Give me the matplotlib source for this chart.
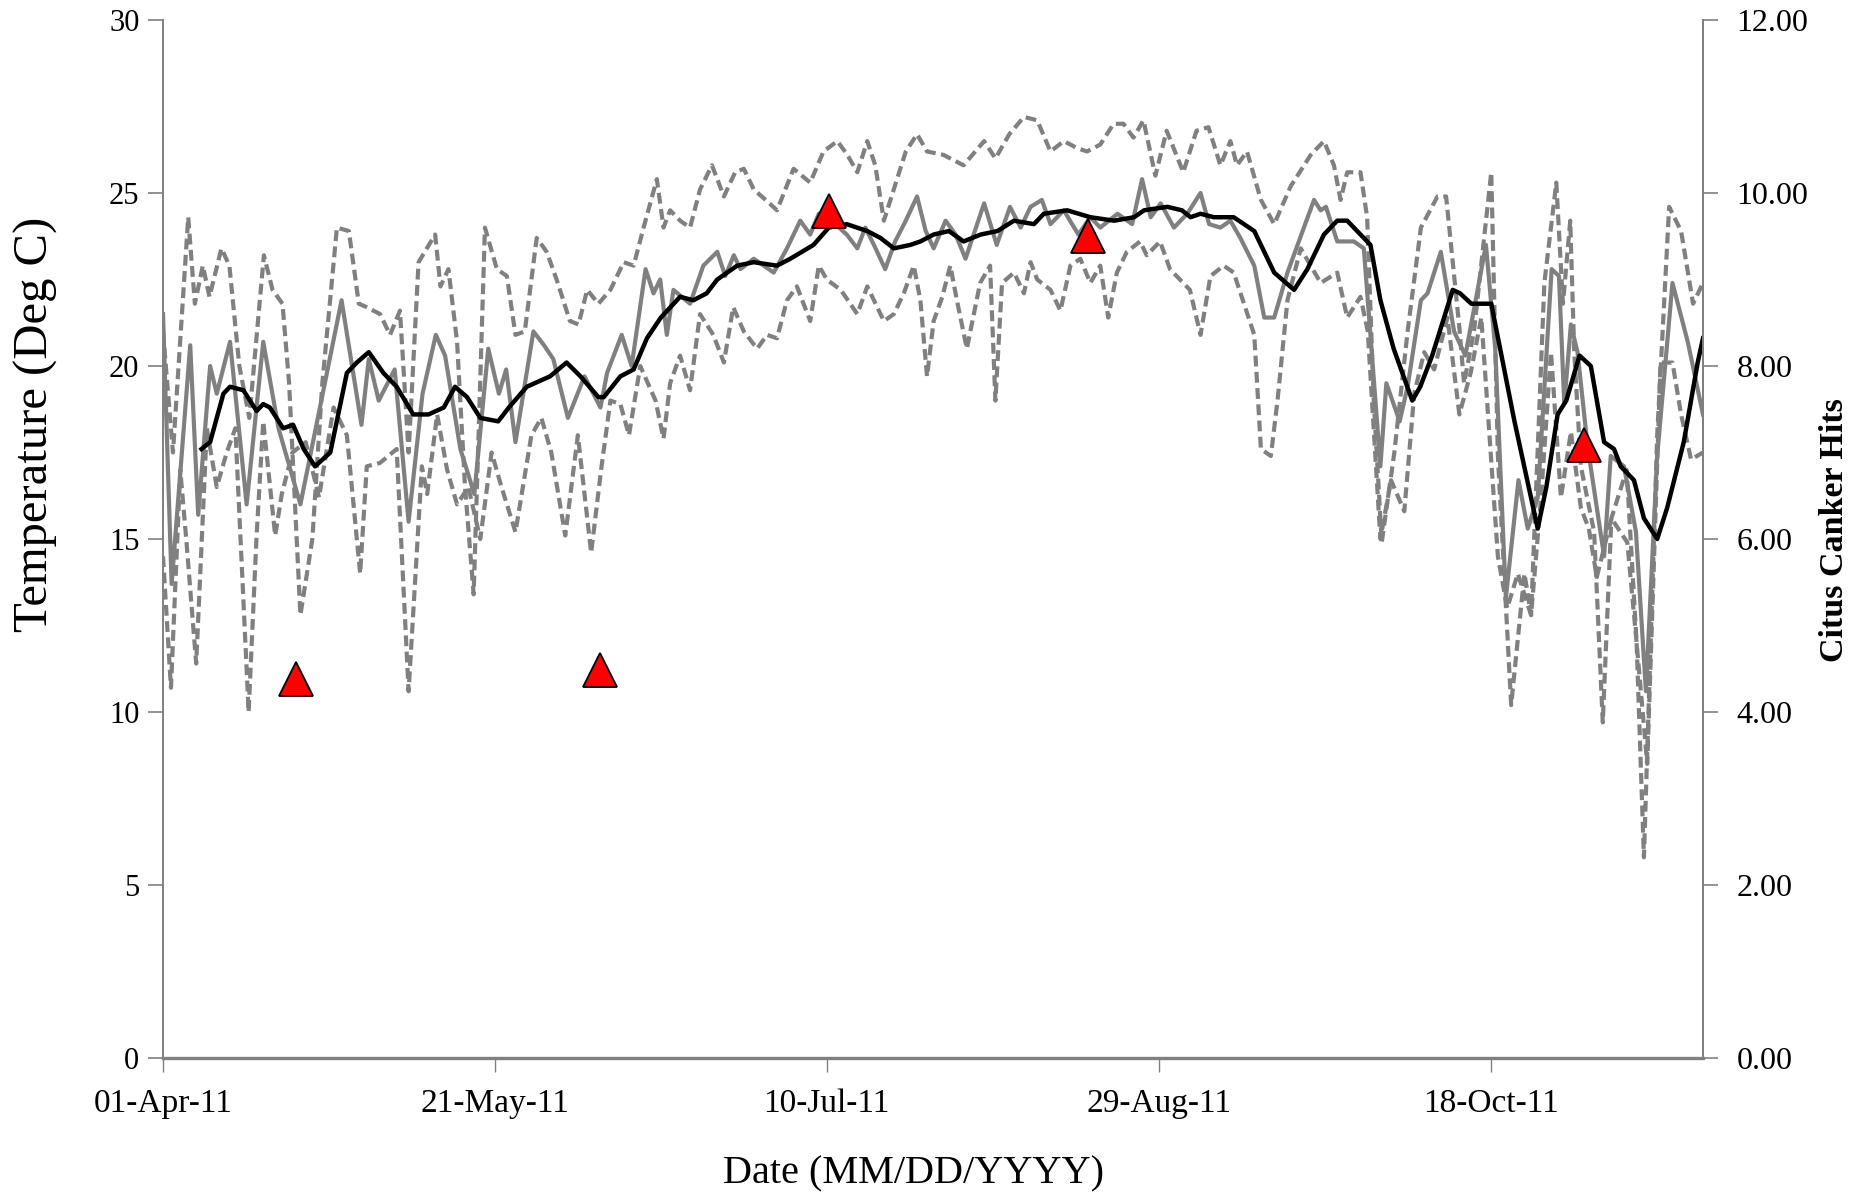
import numpy as np
import matplotlib
matplotlib.use("Agg")
import matplotlib.pyplot as plt

plt.rcParams['font.family'] = ['Liberation Serif', 'DejaVu Serif']

# ---- data (day offset from 01-Apr-2011, value) ----
tick_days = [0, 50, 100, 150, 200]
tick_labels = ["01-Apr-11", "21-May-11", "10-Jul-11", "29-Aug-11", "18-Oct-11"]

mean_days = [0.0, 1.3, 4.1, 5.3, 7.1, 8.1, 10.1, 12.6, 15.1, 17.4, 20.7, 26.9, 29.9, 31.0, 32.5, 34.9,
             37.0, 39.1, 41.1, 42.5, 44.8, 46.9, 49.0, 50.6, 51.7, 53.1, 55.8, 57.4, 58.8, 61.0, 63.5,
             65.9, 66.9, 69.1, 70.6, 72.7, 73.9, 74.9, 75.9, 76.9, 79.4, 81.4, 83.5, 84.7, 86.0, 87.0,
             89.0, 92.0, 94.0, 96.0, 97.5, 98.8, 100.7, 103.0, 104.6, 105.8, 107.1, 108.8, 110.3, 111.9,
             113.6, 114.9, 116.1, 117.9, 119.4, 120.9, 123.7, 125.6, 127.6, 129.2, 130.7, 132.4, 133.7,
             135.7, 137.9, 139.7, 141.2, 143.8, 146.0, 147.5, 148.8, 150.3, 152.3, 154.3, 156.3, 157.6,
             159.3, 160.8, 162.3, 164.4, 165.9, 167.4, 169.4, 173.4, 174.4, 175.2, 176.9, 179.4, 180.9,
             181.9, 183.4, 184.3, 186.3, 187.5, 189.5, 190.5, 192.5, 194.5, 196.2, 199.3, 200.7, 202.3,
             204.2, 205.6, 207.1, 209.2, 210.3, 211.1, 212.1, 213.1, 214.6, 217.1, 218.1, 220.1, 221.9,
             223.4, 225.1, 227.4, 229.7, 232.0]
mean_vals = [21.5, 13.7, 20.6, 15.7, 20.0, 19.2, 20.7, 16.0, 20.7, 18.2, 16.0, 21.9, 18.3, 20.2, 19.0, 19.9,
             15.5, 19.2, 20.9, 20.3, 17.6, 16.3, 20.5, 19.2, 19.9, 17.8, 21.0, 20.6, 20.2, 18.5, 19.7,
             18.8, 19.8, 20.9, 20.0, 22.8, 22.1, 22.5, 20.9, 22.2, 21.8, 22.9, 23.3, 22.6, 23.2, 22.8,
             23.1, 22.7, 23.4, 24.2, 23.8, 24.4, 24.2, 23.8, 23.4, 24.0, 23.5, 22.8, 23.6, 24.2,
             24.9, 23.9, 23.4, 24.2, 23.8, 23.1, 24.7, 23.5, 24.6, 24.0, 24.6, 24.8, 24.1,
             24.5, 23.8, 24.3, 24.0, 24.4, 24.1, 25.4, 24.3, 24.7, 24.0, 24.4, 25.0, 24.1,
             24.0, 24.2, 23.7, 22.9, 21.4, 21.4, 22.7, 24.8, 24.5, 24.6, 23.6, 23.6, 23.4,
             20.9, 17.1, 19.5, 18.4, 19.4, 21.9, 22.1, 23.3, 21.0, 20.3, 23.5, 20.5, 13.3,
             16.7, 15.3, 16.2, 22.8, 22.6, 18.9, 21.2, 20.4, 17.7, 14.5, 17.4, 17.1, 15.2,
             10.6, 17.4, 22.4, 20.7, 18.6]

avg_days = [5.8, 7.1, 9.1, 10.1, 12.1, 14.1, 15.1, 16.1, 18.1, 19.6, 21.2, 22.9, 25.2, 27.7, 29.2, 31.0,
            33.2, 35.2, 37.7, 40.0, 42.3, 44.0, 45.8, 47.8, 50.5, 52.1, 54.8, 58.3, 60.8, 62.9, 65.6,
            66.4, 68.9, 70.9, 72.9, 75.0, 77.9, 79.9, 81.9, 83.5, 86.5, 89.0, 92.5, 94.5, 98.0, 100.3,
            103.0, 106.1, 108.1, 110.1, 112.6, 114.1, 116.1, 118.4, 120.6, 123.2, 125.7, 128.2, 131.2,
            132.7, 136.2, 139.7, 143.3, 146.3, 147.8, 151.3, 153.5, 154.8, 156.3, 158.3, 161.3, 164.4,
            167.4, 170.4, 172.4, 174.9, 176.9, 178.4, 180.9, 181.9, 183.4, 185.4, 188.2, 189.4, 191.2,
            194.3, 195.4, 197.1, 200.1, 203.6, 207.1, 208.4, 210.1, 211.4, 213.4, 215.1, 217.1, 218.6,
            219.6, 221.6, 223.1, 225.1, 226.6, 229.1, 231.2, 232.0]
avg_vals = [17.6, 17.8, 19.2, 19.4, 19.3, 18.7, 18.9, 18.8, 18.2, 18.3, 17.6, 17.1, 17.5, 19.8, 20.1, 20.4,
            19.8, 19.4, 18.6, 18.6, 18.8, 19.4, 19.1, 18.5, 18.4, 18.8, 19.4, 19.7, 20.1, 19.7, 19.1,
            19.1, 19.7, 19.9, 20.8, 21.4, 22.0, 21.9, 22.1, 22.5, 22.9, 23.0, 22.9, 23.1, 23.5, 24.0,
            24.1, 23.9, 23.7, 23.4, 23.5, 23.6, 23.8, 23.9, 23.6, 23.8, 23.9, 24.2, 24.1,
            24.4, 24.5, 24.3, 24.2, 24.3, 24.5, 24.6, 24.5, 24.3, 24.4, 24.3, 24.3, 23.9,
            22.7, 22.2, 22.8, 23.8, 24.2, 24.2, 23.7, 23.5, 21.9, 20.5, 19.0, 19.4, 20.3,
            22.2, 22.1, 21.8, 21.8, 18.4, 15.3, 16.5, 18.6, 19.0, 20.3, 20.0, 17.8, 17.6,
            17.1, 16.7, 15.6, 15.0, 15.9, 17.8, 20.1, 20.8]

max_days = [0.0, 1.5, 3.8, 4.8, 6.0, 7.0, 8.8, 10.0, 11.5, 13.0, 15.2, 16.5, 18.0, 19.0, 20.7, 22.5, 24.0,
            26.2, 28.0, 29.5, 30.7, 32.7, 34.2, 35.7, 37.0, 38.5, 41.0, 41.8, 43.0, 44.3, 45.5, 46.8,
            48.5, 50.3, 51.8, 53.1, 54.5, 56.3, 57.8, 59.3, 61.3, 62.6, 63.9, 65.6, 67.4, 69.4, 70.9,
            72.4, 74.4, 75.4, 76.4, 77.9, 79.4, 80.9, 82.7, 84.5, 86.2, 87.5, 89.0, 90.8, 92.5, 95.0,
            97.5, 99.5, 101.6, 103.1, 104.6, 106.1, 107.3, 108.6, 111.9, 113.6, 115.1, 117.6, 120.6,
            123.7, 125.4, 127.5, 129.7, 131.7, 133.7, 135.7, 137.7, 139.2, 141.2, 143.2, 144.7, 146.2,
            147.7, 149.5, 151.2, 153.7, 155.7, 157.5, 159.3, 160.8, 161.8, 163.3, 165.4, 167.4, 169.9,
            172.9, 174.9, 176.4, 177.4, 178.4, 180.4, 181.4, 182.4, 183.6, 185.5, 187.5, 189.5, 192.0,
            193.3, 195.3, 196.0, 197.5, 200.1, 201.1, 203.1, 205.1, 206.1, 208.1, 209.9, 210.9, 212.0,
            212.6, 213.6, 215.6, 216.9, 218.2, 220.5, 222.0, 223.1, 225.1, 226.9, 228.7, 230.5, 232.0]
max_vals = [21.0, 17.5, 24.3, 21.8, 22.9, 22.0, 23.4, 22.9, 20.0, 18.5, 23.2, 22.2, 21.8, 19.5, 12.8, 15.0, 19.5,
            24.0, 23.9, 21.8, 21.7, 21.5, 20.9, 21.6, 17.5, 23.0, 23.8, 22.3, 22.8, 20.7, 16.5, 13.4,
            24.0, 22.8, 22.6, 20.9, 21.0, 23.7, 23.3, 22.5, 21.3, 21.2, 22.2, 21.8, 22.2, 23.0, 22.9,
            24.0, 25.4, 24.0, 24.5, 24.2, 24.0, 25.1, 25.8, 24.9, 25.6, 25.7, 25.1, 24.8, 24.5, 25.7,
            25.3, 26.2, 26.5, 26.1, 25.6, 26.5, 25.8, 24.2, 26.2, 26.7, 26.2, 26.1, 25.8,
            26.5, 26.0, 26.7, 27.2, 27.1, 26.2, 26.5, 26.3, 26.2, 26.4, 27.0, 27.0, 26.6,
            27.1, 25.5, 26.8, 25.6, 26.8, 26.9, 25.8, 26.5, 25.8, 26.2, 24.8, 24.1, 25.2,
            26.1, 26.5, 25.8, 24.8, 25.6, 25.6, 24.3, 19.0, 14.9, 17.5, 21.0, 24.0, 24.9,
            24.9, 21.1, 19.5, 21.0, 25.6, 17.4, 10.2, 14.0, 12.8, 22.4, 25.3, 21.8, 24.2,
            20.4, 17.1, 15.2, 9.7, 15.6, 17.0, 12.0, 5.8, 18.0, 24.6, 23.9, 21.8, 22.4]

min_days = [0.0, 1.2, 2.6, 3.5, 5.0, 6.6, 8.1, 9.6, 10.9, 12.9, 14.1, 15.1, 16.9, 17.9, 19.5, 21.5, 23.5,
            25.7, 27.7, 29.7, 30.7, 32.7, 35.2, 37.0, 39.0, 39.8, 41.3, 42.8, 44.3, 46.0, 47.8, 49.5,
            51.0, 53.1, 55.5, 57.0, 58.5, 60.6, 62.5, 64.5, 66.0, 67.4, 68.9, 70.2, 71.9, 74.2, 75.4,
            76.4, 77.9, 79.4, 80.9, 82.9, 84.5, 85.9, 87.5, 89.5, 91.0, 92.5, 94.0, 95.5, 97.5, 98.8,
            100.0, 102.1, 104.6, 106.1, 107.1, 108.6, 110.1, 111.6, 113.1, 114.1, 115.1, 116.1, 117.4,
            118.6, 119.6, 121.1, 123.1, 124.6, 125.4, 126.4, 128.2, 129.7, 130.7, 131.7, 133.7, 135.2,
            136.7, 138.2, 139.7, 141.2, 142.4, 143.7, 145.2, 147.2, 148.2, 150.2, 151.7, 154.7, 156.3,
            157.8, 159.8, 161.3, 164.4, 165.4, 166.9, 167.9, 169.4, 171.4, 174.4, 176.9, 178.4, 180.4,
            181.5, 183.4, 185.0, 187.0, 188.5, 190.0, 191.5, 193.5, 195.3, 197.0, 198.6, 201.1, 202.5,
            204.1, 206.1, 207.6, 209.1, 210.6, 212.1, 213.6, 214.8, 216.0, 218.2, 220.6, 222.0, 223.6,
            225.6, 227.4, 228.7, 230.2, 232.0]
min_vals = [14.5, 10.7, 17.0, 15.0, 11.4, 18.2, 16.5, 17.5, 18.2, 10.0, 15.1, 18.4, 15.1, 16.3, 17.5, 17.8, 16.2,
            18.8, 18.0, 14.0, 17.1, 17.2, 17.6, 10.6, 17.1, 16.3, 18.6, 17.0, 16.0, 16.5, 15.0, 17.5,
            16.5, 15.2, 18.0, 18.5, 17.5, 15.1, 18.0, 14.6, 17.0, 19.0, 18.9, 18.0, 20.0, 19.0, 17.9,
            19.5, 20.3, 19.3, 21.5, 20.9, 20.1, 21.7, 21.0, 20.5, 20.9, 20.8, 21.9, 22.3, 21.3, 22.9,
            22.5, 22.2, 21.5, 22.3, 21.9, 21.3, 21.5, 22.1, 22.9, 21.9, 19.7, 21.3, 22.0,
            22.9, 21.9, 20.5, 22.4, 22.9, 19.0, 22.4, 22.7, 22.1, 23.0, 22.5, 22.2, 21.6,
            22.9, 23.1, 22.4, 22.9, 21.4, 22.7, 23.3, 23.6, 23.2, 23.6, 22.8, 22.2, 20.9,
            22.6, 22.9, 22.7, 20.9, 17.6, 17.4, 19.0, 21.9, 23.4, 22.4, 22.7, 21.4, 22.0,
            21.0, 15.0, 16.7, 15.8, 19.2, 20.4, 19.9, 21.4, 18.6, 19.8, 21.4, 14.5, 13.0,
            14.0, 12.8, 16.2, 20.4, 16.2, 18.1, 15.9, 15.3, 13.9, 15.6, 14.9, 12.0, 8.5,
            20.1, 20.1, 18.6, 17.3, 17.5]

hit_days = [20.1, 65.8, 100.4, 139.4, 214.0]
hit_vals = [4.38, 4.48, 9.79, 9.50, 7.09]

# ---- figure ----
W, H, DPI = 1864, 1196, 100
fig = plt.figure(figsize=(W / DPI, H / DPI), dpi=DPI)
ax = fig.add_axes([163 / W, 1 - 1058 / H, (1703 - 163) / W, (1058 - 20) / H])

gray = '#808080'
lw = 3.0
ax.plot(max_days, max_vals, color=gray, lw=lw, dashes=(2.6, 1.3), zorder=2)
ax.plot(min_days, min_vals, color=gray, lw=lw, dashes=(2.6, 1.3), zorder=2)
ax.plot(mean_days, mean_vals, color=gray, lw=lw, zorder=3)
ax.plot(avg_days, avg_vals, color='black', lw=3.2, zorder=4)

ax.set_xlim(0, 232)
ax.set_ylim(0, 30)
ax.set_yticks(range(0, 31, 5))
ax.set_xticks(tick_days)
ax.set_xticklabels(tick_labels)

ax.spines['top'].set_visible(False)
for s in ['left', 'right']:
    ax.spines[s].set_color(gray)
    ax.spines[s].set_linewidth(1.4)
ax.spines['bottom'].set_color(gray)
ax.spines['bottom'].set_linewidth(2.4)

ax.tick_params(axis='y', direction='out', length=11, width=1.2, color=gray, labelsize=22, pad=6)
ax.tick_params(axis='x', direction='out', length=10, width=1.0, color=gray, labelsize=24, pad=12)

ax.set_ylabel('Temperature (Deg C)', fontsize=35)
ax.yaxis.set_label_coords(-0.0827, 0.610)
ax.yaxis.label.set_va('center')
ax.set_xlabel('Date (MM/DD/YYYY)', fontsize=29)
ax.xaxis.set_label_coords(0.4875, -0.112)
ax.xaxis.label.set_va('center')

ax2 = ax.twinx()
ax2.set_ylim(0, 12)
ax2.set_yticks(np.arange(0, 12.01, 2))
ax2.set_yticklabels([f"{v:.2f}" for v in np.arange(0, 12.01, 2)])
ax2.plot(hit_days, hit_vals, linestyle='none', marker='^', markersize=25,
         markerfacecolor='#FF0000', markeredgecolor='black', markeredgewidth=1.3, zorder=5)
for s in ['top', 'left', 'bottom']:
    ax2.spines[s].set_visible(False)
ax2.spines['right'].set_color(gray)
ax2.spines['right'].set_linewidth(1.4)
ax2.tick_params(axis='y', direction='out', length=11, width=1.2, color=gray, labelsize=23, pad=13)
ax2.set_ylabel('Citus Canker Hits', fontsize=24.5, fontweight='bold')
ax2.yaxis.set_label_coords(1.0855, 0.509)
ax2.yaxis.label.set_va('center')

fig.savefig('out.png', dpi=DPI)
